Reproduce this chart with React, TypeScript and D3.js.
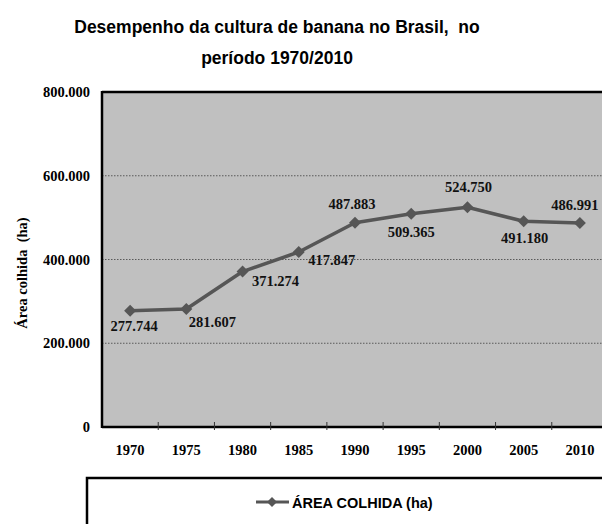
import React from "react";
import * as d3 from "d3";

// Área colhida de banana no Brasil (ha), 1970–2010
const years = ["1970", "1975", "1980", "1985", "1990", "1995", "2000", "2005", "2010"];
const areaColhida = [277744, 281607, 371274, 417847, 487883, 509365, 524750, 491180, 486991];
const yTicks = [0, 200000, 400000, 600000, 800000];

// Offsets of each value label from its point: [dx, dy of baseline]
const labelOffsets: [number, number][] = [
  [4, 20], [26, 18], [33, 14], [33, 13], [-3, -14], [0, 23], [1, -15], [1, 22], [-5, -13],
];

const W = 602;
const H = 524;
const M = { left: 102, top: 92, right: 608, bottom: 427 };

const ptBR = d3.formatLocale({ decimal: ",", thousands: ".", grouping: [3], currency: ["R$", ""] });
const fmt = ptBR.format(",d");

const LINE = "#565656";
const SERIF = "'Liberation Serif', 'Times New Roman', serif";
const SANS = "'Liberation Sans', Arial, sans-serif";

function diamond(cx: number, cy: number, r: number) {
  return `M${cx},${cy - r}L${cx + r},${cy}L${cx},${cy + r}L${cx - r},${cy}Z`;
}

export default function App() {
  const x = d3.scaleBand<string>().domain(years).range([M.left, M.right]).padding(0);
  const y = d3.scaleLinear().domain([0, 800000]).range([M.bottom, M.top]);
  const cx = (yr: string) => (x(yr) as number) + x.bandwidth() / 2;

  const line = d3
    .line<number>()
    .x((_, i) => cx(years[i]))
    .y((d) => y(d));

  return (
    <svg
      width={W}
      height={H}
      style={{ position: "absolute", left: 0, top: 0, background: "#fff" }}
    >
      {/* Title */}
      <text
        x={277}
        y={33}
        textAnchor="middle"
        fontFamily={SANS}
        fontWeight="bold"
        fontSize={17.5}
        style={{ whiteSpace: "pre" }}
      >
        {"Desempenho da cultura de banana no Brasil,  no"}
      </text>
      <text x={277} y={64} textAnchor="middle" fontFamily={SANS} fontWeight="bold" fontSize={17.5}>
        período 1970/2010
      </text>

      {/* Plot area */}
      <rect x={M.left} y={M.top} width={M.right - M.left} height={M.bottom - M.top} fill="#c0c0c0" />

      {/* Gridlines */}
      {yTicks
        .filter((t) => t > 0 && t < 800000)
        .map((t) => (
          <line
            key={t}
            x1={M.left}
            x2={M.right}
            y1={y(t)}
            y2={y(t)}
            stroke="#5a5a5a"
            strokeWidth={1}
            strokeDasharray="1.5,1.5"
          />
        ))}

      {/* Frame */}
      <line x1={M.left} x2={M.right} y1={M.top} y2={M.top} stroke="#000" strokeWidth={2.5} />
      <line x1={M.left} x2={M.left} y1={M.top - 1} y2={M.bottom + 1} stroke="#000" strokeWidth={2.5} />
      <line x1={M.left} x2={M.right} y1={M.bottom} y2={M.bottom} stroke="#000" strokeWidth={2.5} />

      {/* X ticks at category boundaries */}
      {years.slice(1).map((yr) => (
        <line
          key={yr}
          x1={x(yr) as number}
          x2={x(yr) as number}
          y1={M.bottom - 5}
          y2={M.bottom + 3}
          stroke="#333"
          strokeWidth={1}
        />
      ))}

      {/* Y tick labels */}
      {yTicks.map((t) => (
        <text
          key={t}
          x={90}
          y={y(t) + 5}
          textAnchor="end"
          fontFamily={SERIF}
          fontWeight="bold"
          fontSize={14.5}
        >
          {fmt(t)}
        </text>
      ))}

      {/* X tick labels */}
      {years.map((yr) => (
        <text
          key={yr}
          x={cx(yr)}
          y={455}
          textAnchor="middle"
          fontFamily={SERIF}
          fontWeight="bold"
          fontSize={14.5}
        >
          {yr}
        </text>
      ))}

      {/* Y axis title */}
      <text
        transform="translate(27,273) rotate(-90)"
        textAnchor="middle"
        fontFamily={SERIF}
        fontWeight="bold"
        fontSize={14.5}
        style={{ whiteSpace: "pre" }}
      >
        {"Área colhida  (ha)"}
      </text>

      {/* Series */}
      <path d={line(areaColhida) || ""} fill="none" stroke={LINE} strokeWidth={3.5} strokeLinejoin="round" />
      {areaColhida.map((v, i) => (
        <path key={i} d={diamond(cx(years[i]), y(v), 6)} fill={LINE} />
      ))}

      {/* Value labels */}
      {areaColhida.map((v, i) => (
        <text
          key={i}
          x={cx(years[i]) + labelOffsets[i][0]}
          y={y(v) + labelOffsets[i][1]}
          textAnchor="middle"
          fontFamily={SERIF}
          fontWeight="bold"
          fontSize={14.5}
          fill="#111"
        >
          {fmt(v)}
        </text>
      ))}

      {/* Legend */}
      <rect x={87} y={478} width={530} height={60} fill="#fff" stroke="#000" strokeWidth={2.5} />
      <line x1={256} x2={289} y1={502} y2={502} stroke={LINE} strokeWidth={3} />
      <path d={diamond(272, 502, 5)} fill={LINE} />
      <text x={292} y={508} fontFamily={SANS} fontWeight="bold" fontSize={14.5}>
        ÁREA COLHIDA (ha)
      </text>
    </svg>
  );
}
